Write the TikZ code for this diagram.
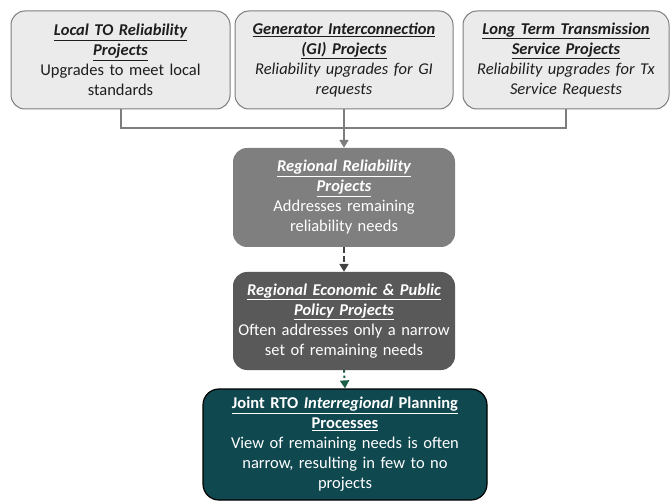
\documentclass[tikz,border=0pt]{standalone}
\usepackage{fontspec}
\setmainfont{Carlito}
\usetikzlibrary{arrows.meta}

\definecolor{boxgray}{RGB}{235,235,235}
\definecolor{edgegray}{RGB}{125,125,125}
\definecolor{midgray}{RGB}{127,127,127}
\definecolor{darkgray}{RGB}{89,89,89}
\definecolor{tealbox}{RGB}{16,72,80}
\definecolor{txtdark}{RGB}{30,30,30}
\definecolor{arrowgreen}{RGB}{28,96,72}

\newcommand{\hd}[1]{\textbf{\textit{\underline{#1}}}}

\begin{document}
\begin{tikzpicture}[x=1pt,y=1pt,yscale=-1,xscale=1,
  every node/.style={font=\fontsize{16.5}{20}\selectfont, align=center, inner sep=0pt},
  topbox/.style={draw=edgegray, line width=1pt, fill=boxgray, rounded corners=14pt, text=txtdark},
  midbox/.style={draw=none, fill=#1, rounded corners=14pt, text=white},
  link/.style={draw=edgegray, line width=2pt},
  tip/.style={-{Triangle[length=8pt,width=9pt]}}]
\useasboundingbox (0,0) rectangle (671,502);

%Shape: Rounded Rectangle [local TO]
\node (local) [topbox, minimum width=219pt, minimum height=98pt, text width=205pt] at (120.5,60)
  {\hd{Local TO Reliability}\\ \hd{Projects}\\ Upgrades to meet local\\ standards};
%Shape: Rounded Rectangle [GI]
\node (gi) [topbox, minimum width=218pt, minimum height=98pt, text width=205pt] at (344,60)
  {\hd{Generator Interconnection}\\ \hd{(GI) Projects}\\ \textit{Reliability upgrades for GI}\\ \textit{requests}};
%Shape: Rounded Rectangle [LTTS]
\node (ltts) [topbox, minimum width=206pt, minimum height=98pt, text width=196pt] at (566,60)
  {\hd{Long Term Transmission}\\ \hd{Service Projects}\\ \textit{Reliability upgrades for Tx}\\ \textit{Service Requests}};

%Shape: Rounded Rectangle [regional reliability]
\node (regrel) [midbox=midgray, minimum width=222pt, minimum height=99pt, text width=210pt] at (344,197.5)
  {\hd{Regional Reliability}\\ \hd{Projects}\\ Addresses remaining\\ reliability needs};
%Shape: Rounded Rectangle [regional economic]
\node (regecon) [midbox=darkgray, minimum width=222pt, minimum height=98pt, text width=215pt] at (344,321)
  {\hd{Regional Economic \& Public}\\ \hd{Policy Projects}\\ Often addresses only a narrow\\ set of remaining needs};
%Shape: Rounded Rectangle [joint RTO]
\node (joint) [draw=black, line width=1.2pt, fill=tealbox, rounded corners=16pt, text=white,
  minimum width=284pt, minimum height=111pt, text width=275pt] at (345,444.5)
  {\textbf{\underline{Joint RTO \textit{Interregional} Planning}}\\ \textbf{\underline{Processes}}\\
   View of remaining needs is often\\ narrow, resulting in few to no\\ projects};

% Connectors
\coordinate (bus) at (344,128);
\draw [link] (local.south) |- (bus) -| (ltts.south);
\draw [link, tip] (gi.south) -- (regrel.north);
\draw [draw=black!75, line width=2pt, dash pattern=on 6pt off 3pt, tip] (regrel.south) -- (regecon.north);
\draw [draw=arrowgreen, line width=2pt, dash pattern=on 2.5pt off 3pt, tip] (regecon.south) -- (joint.north);

\end{tikzpicture}
\end{document}
